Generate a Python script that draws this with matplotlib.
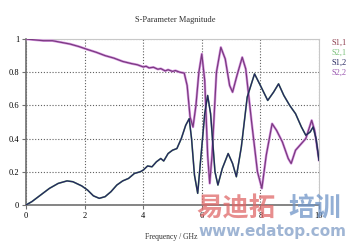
import matplotlib
matplotlib.use("Agg")
import matplotlib.pyplot as plt

# ---- data ----
f_refl = [0, 0.3, 0.6, 0.9, 1.2, 1.5, 1.8, 2.1, 2.4, 2.7, 3.0, 3.3, 3.6, 3.8, 4.0, 4.1,
          4.2, 4.35, 4.5, 4.6, 4.75, 4.85, 5.0, 5.1, 5.25, 5.4, 5.5, 5.6, 5.7, 5.8, 5.9,
          6.0, 6.1, 6.2, 6.27, 6.35, 6.5, 6.65, 6.8, 6.95, 7.05, 7.2, 7.38, 7.5, 7.7,
          7.9, 8.05, 8.2, 8.4, 8.55, 8.75, 8.95, 9.05, 9.2, 9.4, 9.55, 9.75, 9.85, 10.0]
s11 = [1.0, 0.995, 0.99, 0.99, 0.98, 0.97, 0.955, 0.937, 0.92, 0.90, 0.885, 0.865, 0.852,
       0.845, 0.832, 0.836, 0.826, 0.83, 0.818, 0.822, 0.808, 0.815, 0.805, 0.81, 0.80, 0.795,
       0.72, 0.53, 0.47, 0.60, 0.80, 0.91, 0.75, 0.30, 0.13, 0.30, 0.80, 0.95, 0.88, 0.72,
       0.68, 0.78, 0.89, 0.82, 0.50, 0.20, 0.10, 0.30, 0.49, 0.45, 0.38, 0.28, 0.25, 0.33,
       0.37, 0.40, 0.51, 0.45, 0.27]
s22 = s11

f_trans = [0, 0.2, 0.5, 0.8, 1.1, 1.4, 1.6, 1.9, 2.1, 2.3, 2.5, 2.7, 2.9, 3.1, 3.3, 3.5,
           3.7, 3.9, 4.0, 4.15, 4.3, 4.45, 4.6, 4.7, 4.85, 5.0, 5.15, 5.3, 5.45, 5.57, 5.65,
           5.75, 5.86, 5.95, 6.1, 6.2, 6.3, 6.45, 6.55, 6.7, 6.9, 7.05, 7.18, 7.35, 7.55,
           7.8, 8.0, 8.25, 8.45, 8.62, 8.8, 9.0, 9.2, 9.4, 9.55, 9.7, 9.8, 9.9, 10.0]
s12 = [0.0, 0.02, 0.06, 0.10, 0.13, 0.145, 0.14, 0.115, 0.09, 0.055, 0.04, 0.05, 0.08,
       0.12, 0.145, 0.16, 0.19, 0.20, 0.21, 0.235, 0.23, 0.26, 0.28, 0.265, 0.31, 0.33,
       0.34, 0.40, 0.48, 0.52, 0.40, 0.18, 0.07, 0.25, 0.55, 0.66, 0.55, 0.20, 0.12, 0.22,
       0.31, 0.25, 0.17, 0.35, 0.65, 0.79, 0.72, 0.63, 0.68, 0.73, 0.66, 0.60, 0.55, 0.47,
       0.42, 0.44, 0.47, 0.40, 0.27]
s21 = s12

x_ticks = [0, 2, 4, 6, 8, 10]
y_ticks = [0, 0.2, 0.4, 0.6, 0.8, 1.0]
y_tick_labels = ["0", "0.2", "0.4", "0.6", "0.8", "1"]
legend_labels = ["S1,1", "S2,1", "S1,2", "S2,2"]
legend_colors = ["#8c3a4c", "#7cc27c", "#262660", "#9a55b0"]

fig = plt.figure(figsize=(3.5, 2.44), dpi=100)
fig.patch.set_facecolor("white")
ax = fig.add_axes([0.0743, 0.16, 0.8371, 0.68])

ax.plot(f_refl, s22, color="#d99ae3", lw=1.8, solid_joinstyle="round", zorder=3)
ax.plot(f_refl, s11, color="#7a3a80", lw=0.9, zorder=4)
ax.plot(f_trans, s21, color="#7cc27c", lw=1.2, zorder=3)
ax.plot(f_trans, s12, color="#262660", lw=1.0, zorder=4)

ax.set_xlim(0, 10)
ax.set_ylim(0, 1)
ax.set_xticks(x_ticks)
ax.set_yticks(y_ticks)
ax.set_yticklabels(y_tick_labels)
ax.grid(True, color="#606060", linestyle=(0, (1, 1.6)), linewidth=0.8)
ax.tick_params(labelsize=6, length=3, width=0.8, color="#707070", pad=2)
for lab in ax.get_xticklabels() + ax.get_yticklabels():
    lab.set_family("Liberation Serif")
for s in ["left", "bottom"]:
    ax.spines[s].set_color("#707070")
    ax.spines[s].set_linewidth(1.2)
for s in ["top", "right"]:
    ax.spines[s].set_color("#c8c8c8")
    ax.spines[s].set_linewidth(0.8)

fig.text(0.5, 0.918, "S-Parameter Magnitude", ha="center", va="center",
         fontsize=6, family="Liberation Serif", color="#303030")
fig.text(0.49, 0.03, "Frequency / GHz", ha="center", va="center",
         fontsize=5.5, family="Liberation Serif", color="#303030")

for i, (lab, col) in enumerate(zip(legend_labels, legend_colors)):
    fig.text(0.947, 1 - (43 + 10 * i) / 244, lab, ha="left", va="center",
             fontsize=6, family="Liberation Serif", color=col)

# watermark
fig.text(0.56, 0.145, "易迪拓", ha="left", va="center", fontsize=19, fontweight="bold",
         family=["Noto Sans CJK SC", "DejaVu Sans"], color="#e06868", alpha=0.75)
fig.text(0.825, 0.145, "培训", ha="left", va="center", fontsize=19, fontweight="bold",
         family=["Noto Sans CJK SC", "DejaVu Sans"], color="#6f95c8", alpha=0.75)
fig.text(0.99, 0.05, "www.edatop.com", ha="right", va="center", fontsize=11,
         fontweight="bold", family="DejaVu Sans", color="#7f9cc6", alpha=0.75)

fig.savefig("out.png", dpi=100)
